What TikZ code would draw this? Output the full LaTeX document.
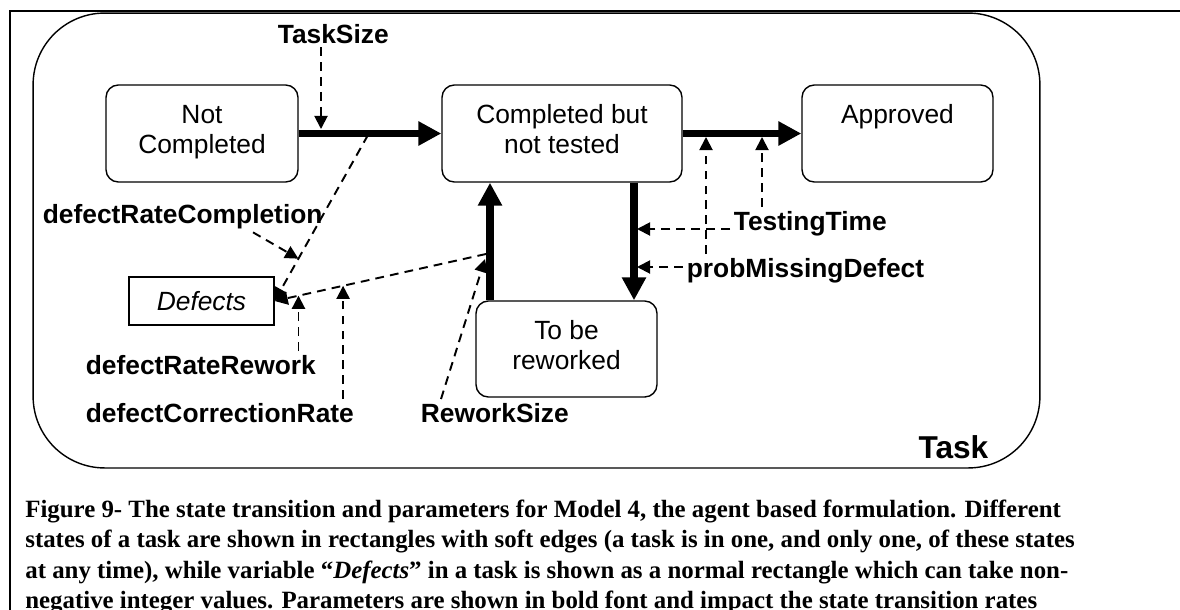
\documentclass[tikz,border=0pt]{standalone}
\usepackage{fontspec}
\setmainfont{Liberation Serif}
\newfontfamily\arialfont{Liberation Sans}
\usetikzlibrary{arrows.meta}
\usetikzlibrary{calc}
\tikzset{
  statebox/.style={draw, line width=0.8pt, rounded corners=7pt, align=center,
    font=\arialfont\fontsize{15}{17}\selectfont, text depth=5pt,
    minimum height=1.94cm, inner sep=0pt},
  varbox/.style={draw, line width=0.7pt, font=\arialfont\itshape\fontsize{15}{17}\selectfont,
    minimum width=2.9cm, minimum height=0.96cm},
  parlabel/.style={font=\arialfont\bfseries\fontsize{15}{17}\selectfont, inner sep=2pt, anchor=base west},
  flowarrow/.style={line width=4pt, -{Triangle[length=13pt,width=13pt]}},
  effectarrow/.style={line width=1.1pt, dash pattern=on 5pt off 3.5pt, -{Triangle[length=7.5pt,width=7.5pt]}},
  captionline/.style={font=\bfseries\fontsize{14.15}{17}\selectfont, inner sep=0pt, anchor=base west},
}

\begin{document}
\begin{tikzpicture}[x=0.02cm, y=-0.02cm]
  \useasboundingbox (0,0) rectangle (1180,609);
  \clip (0,0) rectangle (1180,609);

  % frame and agent container
  \draw[line width=1.3pt] (10,700) -- (10,11) -- (1250,11);
  \node[draw, line width=0.8pt, rounded corners=40.8pt, minimum width=20.14cm,
        minimum height=9.1cm] (task) at (536.5,240.5) {};
  \node[font=\arialfont\bfseries\fontsize{18}{20}\selectfont, inner sep=0pt, anchor=base east]
    (tasklab) at ($(task.south east)+(-52,-10)$) {Task};

  % states
  \node[statebox, minimum width=3.84cm] (notdone) at (202,133.5) {Not\\Completed};
  \node[statebox, minimum width=4.8cm] (untested) at (562,133.5) {Completed but\\not tested};
  \node[statebox, minimum width=3.82cm] (approved) at (897.5,133.5) {Approved\\~};
  \node[statebox, minimum width=3.62cm, minimum height=1.92cm] (rework) at (566.5,349) {To be\\reworked};
  \node[varbox] (defects) at (201.5,301) {Defects};

  % parameters
  \node[parlabel] (tasksize) at (274,43) {TaskSize};
  \node[parlabel] (drc) at (39,223) {defectRateCompletion};
  \node[parlabel] (drr) at (82,374) {defectRateRework};
  \node[parlabel] (dcr) at (82,422) {defectCorrectionRate};
  \node[parlabel] (rsize) at (417,422) {ReworkSize};
  \node[parlabel] (testing) at (730,230) {TestingTime};
  \node[parlabel] (probmiss) at (683,277) {probMissingDefect};

  % transitions
  \coordinate (upx) at (490,0);
  \coordinate (dnx) at (634,0);
  \draw[flowarrow] (notdone) -- (untested);
  \draw[flowarrow] (untested) -- (approved);
  \draw[flowarrow] (untested.south -| dnx) -- (rework.north -| dnx);
  \draw[flowarrow] (rework.north -| upx) -- (untested.south -| upx);

  % where the parameters act
  \coordinate (ts) at (321,129);
  \coordinate (c1) at (368,135);
  \coordinate (c2) at (486,254);
  \coordinate (c3) at (485,259);
  \coordinate (pm) at (706,137);
  \coordinate (tt) at (762,137);
  \coordinate (tm1) at (637,229);
  \coordinate (tm2) at (637,267);

  \draw[effectarrow] (ts |- tasksize.south) -- (ts);
  \draw[effectarrow] (c1) -- coordinate[pos=.745] (dc) (defects.east);
  \draw[effectarrow] (c2) -- coordinate[pos=.676] (cr) coordinate[pos=.887] (rr) (defects.east);
  \draw[effectarrow] ($(drc.south west)+(214,0)$) -- (dc);
  \draw[effectarrow] (cr |- dcr.north) -- (cr);
  \draw[effectarrow] (rr |- drr.north) -- (rr);
  \draw[effectarrow] ($(rsize.north west)+(24,0)$) -- (c3);
  \draw[effectarrow] (tm1 -| testing.west) -- (tm1);
  \draw[effectarrow] (tt |- testing.north) -- (tt);
  \draw[effectarrow] (tm2 -| probmiss.west) -- (tm2);
  \draw[effectarrow] (pm |- probmiss.north) -- (pm);

  % caption
  \foreach \ln [count=\i from 0] in {
    {Figure 9- The state transition and parameters for Model 4, the agent based formulation. Different},
    {states of a task are shown in rectangles with soft edges (a task is in one, and only one, of these states},
    {at any time), while variable ``\textit{Defects}'' in a task is shown as a normal rectangle which can take non-},
    {negative integer values. Parameters are shown in bold font and impact the state transition rates}%
  } {
    \node[captionline] (cap\i) at (25,{517.3+30.5*\i}) {\ln};
  }
\end{tikzpicture}
\end{document}
